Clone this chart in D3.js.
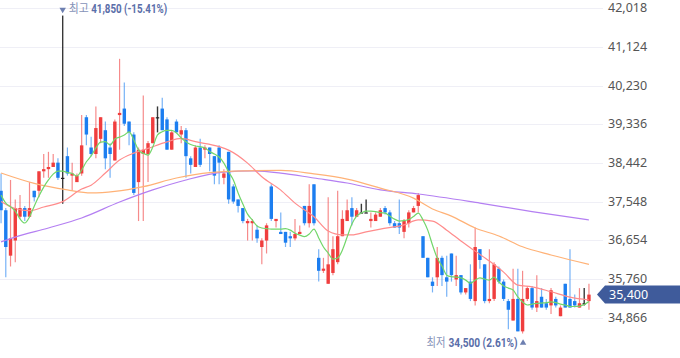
<!DOCTYPE html>
<html><head><meta charset="utf-8">
<script src="https://cdn.jsdelivr.net/npm/d3@7/dist/d3.min.js"></script>
<style>
html,body{margin:0;padding:0;background:#fff;}
svg{display:block;}
</style></head>
<body>
<svg id="c" width="680" height="358"></svg>
<script>
// ---- data ----
const open  = [37800,37350,36300,36650,37200,37400,37200,37800,37800,38250,38300,38350,38450,38100,38600,38150,38000,38200,39500,38800,38650,39000,39200,38800,38500,39550,39700,39400,39100,38000,38650,38650,38900,39500,39700,39450,38750,39400,39100,39200,38550,38350,38800,38750,38800,38600,38800,38100,38700,37900,37600,37400,37050,37050,36900,36500,36650,37900,37100,36850,36850,36750,36700,36800,37450,37050,37950,36250,35950,35650,35900,36150,36750,37100,37400,37200,37300,37300,37100,37100,37200,37400,37300,37050,37050,36850,37050,37300,37450,36750,36250,35700,35800,36250,35800,36350,35750,35850,35450,35700,35250,36450,36100,35250,35300,36000,35700,35250,34800,35300,34550,35300,35550,35100,35350,35200,35150,35300,34900,35650,35300,35250,35100,35200,35250];
const high  = [38200,37400,38050,37600,37700,37450,38000,37800,38250,38650,38700,38650,38550,41850,38800,38450,38200,39550,39550,39050,39750,39500,39400,38900,39450,40850,40300,39400,39150,38800,40000,38950,39500,39750,39950,39500,39200,39450,39300,39250,38600,38850,39000,38850,38800,38600,38850,38300,38700,37950,37600,37400,37150,37150,37000,36700,37050,37950,37150,37300,36850,36850,37150,37000,37450,37950,37950,36450,36250,37650,36750,37800,37350,37600,37650,37400,37500,37600,37300,37300,37400,37450,37350,37100,37600,37150,37350,37450,37750,36750,36250,35800,36500,36300,36300,36350,36300,35850,35550,36100,36950,36450,36100,36450,36150,36050,35750,35300,36000,36000,35950,35600,35600,35850,35550,35300,35550,35350,35150,35650,36450,35400,35550,35550,35650];
const low   = [37050,35800,36050,36150,37150,37100,37200,37550,37650,38100,38100,38350,38050,37500,38150,37800,38000,38150,38850,38600,38550,38900,38300,38100,38500,38750,39300,38850,37700,37100,37100,38000,38900,39150,39200,38750,38750,39150,38900,38100,38200,38350,38350,38550,38250,37950,37950,37950,37500,37500,37300,37050,36650,36650,36600,36100,36350,37100,36950,36800,36500,36500,36650,36800,37000,36950,37000,35700,35900,35650,35850,36100,36750,37100,37000,37200,37300,37300,36950,37100,37200,37250,37000,36950,36800,36700,36950,37300,37300,36250,35800,35450,35600,35600,35350,35700,35600,35400,35400,35250,35150,36000,35200,35200,35250,35650,35250,34600,34800,34550,34500,35250,35050,35000,35100,35050,34950,35100,34900,35100,35100,35100,35100,35150,35050];
const close = [37350,36500,36700,37400,37400,37200,37400,37650,38250,38300,38350,38450,38100,38100,38200,38200,38150,38850,39100,38650,39250,39500,38550,38650,39400,39600,39350,39150,37750,38750,38750,38900,39500,39500,39200,38750,39150,39150,39200,38600,38400,38800,38400,38800,38650,38150,38450,38200,37600,37550,37450,37100,37100,37100,36700,36650,37000,37150,37150,36800,36600,36700,36800,36850,37050,37450,37050,35950,36000,36100,36450,36750,37150,37350,37200,37350,37300,37300,37150,37250,37350,37300,37050,36950,36950,37100,37300,37400,37700,36250,35800,35600,36250,35850,35700,35850,35850,35450,35550,35300,36500,36200,35250,35300,36100,35700,35300,35050,35300,34550,35300,35550,35100,35250,35100,35100,35500,35150,35100,35100,35100,35150,35200,35200,35400];
// moving averages
const ma5 = [37700,37515,37430,37330,37150,37055,37195,37445,37680,37885,38050,38185,38255,38255,38220,38200,38140,38280,38470,38605,38790,38925,38935,38860,38995,39040,39090,39160,38975,38740,38665,38625,38810,39090,39165,39195,39195,39135,39020,38935,38870,38835,38820,38790,38710,38650,38580,38440,38235,38050,37750,37495,37260,37125,36985,36940,36925,36915,36915,36915,36925,36890,36820,36775,36740,36800,36915,36710,36500,36360,36220,36245,36430,36730,37030,37215,37285,37330,37330,37320,37295,37285,37215,37145,37100,37110,37135,37205,37285,37125,36890,36545,36245,36060,35850,35815,35805,35785,35735,35665,35735,35785,35760,35735,35805,35690,35600,35550,35505,35345,35230,35160,35180,35195,35205,35215,35230,35215,35180,35160,35125,35125,35135,35170,35240];
const ma20 = [[0,37550],[2,37430],[6,37340],[9,37425],[13,37550],[17,37840],[19,37930],[22,38210],[25,38510],[28,38670],[31,38780],[35,38930],[38,39010],[41,38935],[46,38820],[48,38740],[52,38440],[55,38125],[59,37815],[62,37515],[66,37200],[69,36870],[72,36780],[74,36780],[77,36850],[80,36915],[85,37010],[88,37125],[91,37100],[94,36890],[97,36640],[100,36405],[103,36175],[106,35920],[109,35620],[112,35580],[116,35465],[120,35340],[124,35275]];
const ma60 = [[0,38210],[7,37970],[14,37820],[19,37750],[24,37785],[30,37895],[37,38095],[44,38220],[52,38260],[59,38270],[66,38190],[73,38070],[80,37860],[87,37630],[91,37380],[95,37215],[100,36940],[105,36755],[110,36505],[116,36315],[124,36100]];
const ma120 = [[0,36620],[3,36730],[10,36940],[17,37170],[25,37540],[32,37820],[39,38050],[47,38230],[53,38260],[59,38210],[66,38095],[73,37980],[80,37820],[88,37725],[101,37515],[112,37320],[124,37125]];
const yTicks = [42018,41124,40230,39336,38442,37548,36654,35760,34866];
const lastPrice = 35400;

// ---- drawing ----
const svg = d3.select("#c");
const n = open.length;
const idx = d3.range(n);
const x = d3.scaleBand().domain(idx).range([-0.66, 590.66]).paddingInner(0.28);
const cx = i => x(i) + x.bandwidth() / 2;
const y = d3.scaleLinear().domain([34866, 42018]).range([317.7, 8.3]);

const UP = "#f03e3e", DOWN = "#1c7ef0", FLAT = "#222";
const col = i => close[i] > open[i] ? UP : (close[i] < open[i] ? DOWN : FLAT);

// grid
svg.append("g").selectAll("line").data(yTicks).join("line")
  .attr("x1", 0).attr("x2", 603)
  .attr("y1", d => Math.round(y(d)) + 0.5).attr("y2", d => Math.round(y(d)) + 0.5)
  .attr("stroke", "#efeff6").attr("stroke-width", 1);

// axis labels
const axis = d3.axisRight(y).tickValues(yTicks).tickSize(0).tickFormat(d3.format(","));
const ag = svg.append("g").attr("transform", "translate(604,0)").call(axis);
ag.select(".domain").remove();
ag.selectAll("text").attr("x", 4).attr("dy", "0.28em")
  .attr("fill", "#555").style("font-family", "'Noto Sans', 'Open Sans', sans-serif").style("font-size", "12.5px");

// candles
const cg = svg.append("g");
cg.selectAll("line.wick").data(idx).join("line").attr("class", "wick")
  .attr("x1", cx).attr("x2", cx)
  .attr("y1", i => y(high[i])).attr("y2", i => y(low[i]))
  .attr("stroke", col).attr("stroke-opacity", i => col(i) === FLAT ? 0.9 : 0.6)
  .attr("stroke-width", i => col(i) === FLAT ? 1.4 : 1.2);
cg.selectAll("rect.body").data(idx).join("rect").attr("class", "body")
  .attr("x", i => x(i)).attr("width", x.bandwidth())
  .attr("y", i => y(Math.max(open[i], close[i])))
  .attr("height", i => Math.max(1.2, y(Math.min(open[i], close[i])) - y(Math.max(open[i], close[i]))))
  .attr("fill", col);

// MA lines
const lineFull = d3.line().x((d, i) => cx(i)).y(d => y(d)).curve(d3.curveMonotoneX);
const lineSamp = d3.line().x(d => cx(d[0])).y(d => y(d[1])).curve(d3.curveMonotoneX);
const lg = svg.append("g").attr("fill", "none").attr("stroke-width", 1.2);
lg.append("path").attr("d", lineSamp(ma120)).attr("stroke", "#b47ff2");
lg.append("path").attr("d", lineSamp(ma60)).attr("stroke", "#ffb277");
lg.append("path").attr("d", lineSamp(ma20)).attr("stroke", "#ff8c8c");
lg.append("path").attr("d", lineFull(ma5)).attr("stroke", "#72d66a");

// high / low markers
const hiI = high.indexOf(d3.max(high));
const loI = low.indexOf(d3.min(low));
const fmt = d3.format(",");
const pct = v => { const p = (lastPrice / v - 1) * 100; return (p >= 0 ? "" : "-") + Math.abs(p).toFixed(2) + "%"; };
const kfont = "'Noto Sans CJK KR', sans-serif";
const nfont = "Roboto, 'Noto Sans', sans-serif";
const mg = svg.append("g");
const tri = d3.symbol().type(d3.symbolTriangle).size(18);

const hx = cx(hiI);
mg.append("path").attr("d", tri()).attr("fill", "#6d7fb0")
  .attr("transform", `translate(${hx},9.5) rotate(180)`);
mg.append("text").attr("x", hx + 6).attr("y", 9).attr("dy", "0.36em")
  .attr("fill", "#8592b8").style("font-family", kfont).style("font-size", "12px")
  .attr("textLength", 20).attr("lengthAdjust", "spacingAndGlyphs").text("최고");
mg.append("text").attr("x", hx + 28.5).attr("y", 9).attr("dy", "0.36em")
  .attr("fill", "#5a6ea9").attr("font-weight", "bold").style("font-family", nfont).style("font-size", "12px")
  .attr("textLength", 76).attr("lengthAdjust", "spacingAndGlyphs")
  .text(fmt(high[hiI]) + " (" + pct(high[hiI]) + ")");

const lx = cx(loI);
mg.append("path").attr("d", tri()).attr("fill", "#6d7fb0")
  .attr("transform", `translate(${lx + 0.5},343)`);
mg.append("text").attr("x", lx - 5).attr("y", 343).attr("dy", "0.36em").attr("text-anchor", "end")
  .attr("fill", "#5a6ea9").attr("font-weight", "bold").style("font-family", nfont).style("font-size", "12px")
  .attr("textLength", 69).attr("lengthAdjust", "spacingAndGlyphs")
  .text(fmt(low[loI]) + " (" + pct(low[loI]) + ")");
mg.append("text").attr("x", lx - 77).attr("y", 343).attr("dy", "0.36em").attr("text-anchor", "end")
  .attr("fill", "#8592b8").style("font-family", kfont).style("font-size", "12px")
  .attr("textLength", 19).attr("lengthAdjust", "spacingAndGlyphs").text("최저");

// last price label
const py = y(lastPrice);
svg.append("path")
  .attr("d", `M597,${py} L605,${py - 9} L680,${py - 9} L680,${py + 9} L605,${py + 9} Z`)
  .attr("fill", "#3f5b9b");
svg.append("text").attr("x", 609).attr("y", py).attr("dy", "0.36em")
  .attr("fill", "#fff").style("font-family", "'Noto Sans', 'Open Sans', sans-serif").style("font-size", "12.5px")
  .text(fmt(lastPrice));
</script>
</body></html>
